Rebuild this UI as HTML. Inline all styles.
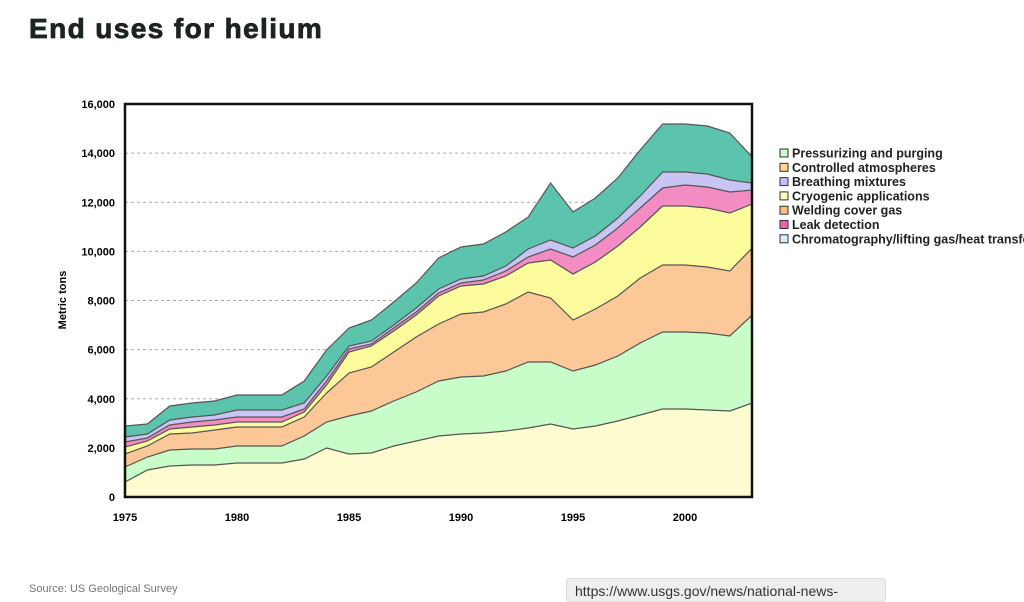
<!DOCTYPE html>
<html><head><meta charset="utf-8"><style>
body{margin:0;background:#fff;width:1024px;height:599px;overflow:hidden;position:relative;font-family:"Liberation Sans",sans-serif}
.t{position:absolute;left:29px;top:13px;font-size:28px;font-weight:900;color:#1a2422;letter-spacing:1.4px;-webkit-text-stroke:0.8px #1a2422}
.src{position:absolute;left:29px;top:583px;font-size:11px;color:#777}
.url{position:absolute;left:566px;top:578px;width:320px;height:24px;background:#eee;border:1px solid #ddd;border-radius:3px;font-size:14px;color:#333;padding:4px 8px;box-sizing:border-box}
</style></head><body>
<div class="t">End uses for helium</div>
<svg id="s" width="1024" height="599" style="position:absolute;left:0;top:0"></svg>
<div class="src">Source: US Geological Survey</div>
<div class="url">https://www.usgs.gov/news/national-news-</div>
<script>
const yrs=[1975,1976,1977,1978,1979,1980,1982,1983,1984,1985,1986,1987,1988,1989,1990,1991,1992,1993,1994,1995,1996,1997,1998,1999,2000,2001,2002,2003];
const L=[
["#fcfcd0",[482,470,466,465,465,463,463,459,448,454,453,446,441,436,434,433,431,428,424,429,426,421,415,409,409,410,411,403]],
["#c8fcc8",[467,457,450,449,449,446,446,436,422,416,411,401,392,381,377,376,371,362,362,371,365,356,343,332,332,333,336,315]],
["#fcc898",[454,446,434,433,430,427,427,417,393,373,367,352,337,324,314,312,304,292,298,320,309,296,278,265,265,267,271,248]],
["#fcfc9c",[447,441,429,427,425,422,422,412,385,352,346,331,315,296,286,284,276,263,260,274,262,246,227,206,206,208,213,204]],
["#f48cc4",[442,438,425,422,420,417,417,409,381,349,344,328,312,293,283,280,271,257,249,257,245,228,208,188,185,187,192,190]],
["#c8c4f4",[437,434,420,417,415,410,410,403,376,346,341,325,308,289,279,276,266,249,240,248,236,218,196,172,172,174,180,183]],
["#5cc4ad",[426,424,406,403,401,395,395,381,350,328,320,302,283,258,247,244,232,217,183,212,198,178,150,124,124,126,133,157]]];
const X=y=>125+22.4*(y-1975);
let h='';
for(let v=0;v<=16000;v+=2000){const y=497-v*0.02456;
 if(v>0&&v<16000)h+=`<line x1="125" x2="752" y1="${y}" y2="${y}" stroke="#aaa" stroke-dasharray="3,3"/>`;
 h+=`<text x="115" y="${y+4}" text-anchor="end" font-size="11" font-weight="bold" font-family="Liberation Sans">${v.toLocaleString('en-US')}</text>`;}
for(let i=L.length-1;i>=0;i--){const [c,d]=L[i];
 let p=yrs.map((yr,j)=>X(yr)+','+d[j]).join(' ');
 h+=`<polygon points="${p} 752,497 125,497" fill="${c}" stroke="#555" stroke-width="1.2"/>`;}
h+=`<rect x="125" y="104" width="627" height="393" fill="none" stroke="#111" stroke-width="2.5"/>`;
[1975,1980,1985,1990,1995,2000].forEach(y=>h+=`<text x="${X(y)}" y="521" text-anchor="middle" font-size="11" font-weight="bold" font-family="Liberation Sans">${y}</text>`);
h+=`<text transform="translate(66,300) rotate(-90)" text-anchor="middle" font-size="11" font-weight="bold" font-family="Liberation Sans">Metric tons</text>`;
const lg=[["#c8fcc8","Pressurizing and purging"],["#fcd890","Controlled atmospheres"],["#c0c0fc","Breathing mixtures"],["#fcfcc0","Cryogenic applications"],["#fcc080","Welding cover gas"],["#f060b0","Leak detection"],["#d8ecfc","Chromatography/lifting gas/heat transfer"]];
lg.forEach((e,i)=>{const y=149+i*14.3;h+=`<rect x="780" y="${y}" width="8" height="8" fill="${e[0]}" stroke="#333"/><text x="792" y="${y+8.5}" font-size="12.5" font-weight="bold" font-family="Liberation Sans" fill="#222">${e[1]}</text>`;});
document.getElementById('s').innerHTML=h;
</script>
</body></html>
